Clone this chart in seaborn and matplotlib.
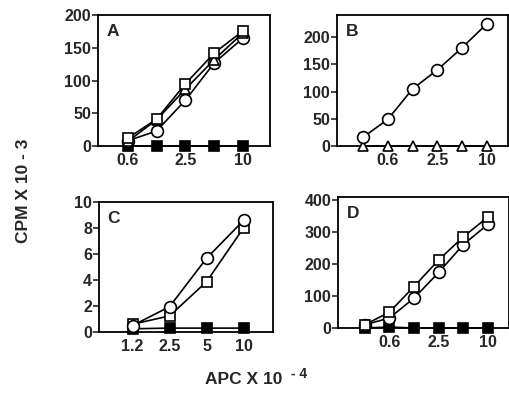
import matplotlib
matplotlib.use("Agg")
import matplotlib.pyplot as plt
import seaborn as sns

# APC doses (x 10^-4) and responses (CPM x 10^-3)
a_doses = ["0.6", "1.2", "2.5", "5", "10"]
a_square = [12, 41, 95, 142, 176]
a_triangle = [7, 40, 87, 132, 173]
a_circle = [8, 23, 70, 127, 165]
a_filled = [0, 0, 0, 0, 0]

b_doses = ["0.3", "0.6", "1.2", "2.5", "5", "10"]
b_circle = [16, 49, 105, 140, 181, 225]
b_triangle = [0, 0, 0, 0, 0, 0]

c_doses = ["1.2", "2.5", "5", "10"]
c_circle = [0.5, 1.95, 5.67, 8.58]
c_square = [0.6, 1.24, 3.87, 8.0]
c_filled = [0.25, 0.3, 0.3, 0.3]

d_doses = ["0.3", "0.6", "1.2", "2.5", "5", "10"]
d_square = [10, 49, 129, 212, 284, 346]
d_circle = [10, 31, 93, 173, 260, 323]
d_filled = [0, 3, 0, 0, 0, 0]

sns.set_style("ticks")
plt.rcParams["font.family"] = ["Liberation Sans", "DejaVu Sans"]
plt.rcParams["font.weight"] = "bold"

fig = plt.figure(figsize=(5.09, 3.97), dpi=100)

# marker styles: open symbols have white faces
STYLES = {
    "circle": dict(marker="o", markersize=8.5, markerfacecolor="white"),
    "square": dict(marker="s", markersize=7.5, markerfacecolor="white"),
    "triangle": dict(marker="^", markersize=6.5, markerfacecolor="white"),
    "filled": dict(marker="s", markersize=7, markerfacecolor="black"),
}


def draw_series(ax, values, kind):
    x = list(range(len(values)))
    sns.lineplot(x=x, y=values, ax=ax, color="black", linewidth=1.2,
                 markeredgecolor="black", markeredgewidth=1.2,
                 clip_on=False, zorder=3, **STYLES[kind])


def style_panel(ax, letter, doses, tick_idx, xlim, ylim, yticks):
    ax.set_xlim(*xlim)
    ax.set_ylim(*ylim)
    ax.set_xticks(tick_idx)
    ax.set_xticklabels([doses[i] for i in tick_idx], fontsize=11.5,
                       fontweight="bold")
    ax.set_yticks(yticks)
    ax.set_yticklabels([str(t) for t in yticks], fontsize=11.5,
                       fontweight="bold")
    ax.tick_params(axis="y", length=4, width=1.2, pad=1)
    ax.tick_params(axis="x", length=0, pad=5)
    for sp in ax.spines.values():
        sp.set_linewidth(1.3)
        sp.set_color("black")
    ax.text(0.05, 0.93, letter, transform=ax.transAxes, fontsize=12.5,
            va="top", ha="left", fontweight="bold")
    ax.set_xlabel("")
    ax.set_ylabel("")


# Panel A
ax_a = fig.add_axes([0.1925, 0.6322, 0.338, 0.330])
draw_series(ax_a, a_filled, "filled")
draw_series(ax_a, a_circle, "circle")
draw_series(ax_a, a_triangle, "triangle")
draw_series(ax_a, a_square, "square")
style_panel(ax_a, "A", a_doses, [0, 2, 4], (-1.03, 4.93), (0, 200),
            [0, 50, 100, 150, 200])

# Panel B
ax_b = fig.add_axes([0.662, 0.6322, 0.336, 0.330])
draw_series(ax_b, b_triangle, "triangle")
draw_series(ax_b, b_circle, "circle")
style_panel(ax_b, "B", b_doses, [1, 3, 5], (-1.05, 5.85), (0, 241),
            [0, 50, 100, 150, 200])

# Panel C
ax_c = fig.add_axes([0.1945, 0.1637, 0.342, 0.3275])
draw_series(ax_c, c_filled, "filled")
draw_series(ax_c, c_square, "square")
draw_series(ax_c, c_circle, "circle")
style_panel(ax_c, "C", c_doses, [0, 1, 2, 3], (-0.91, 3.8), (0, 10),
            [0, 2, 4, 6, 8, 10])

# Panel D
ax_d = fig.add_axes([0.664, 0.1738, 0.336, 0.330])
draw_series(ax_d, d_filled, "filled")
draw_series(ax_d, d_circle, "circle")
draw_series(ax_d, d_square, "square")
style_panel(ax_d, "D", d_doses, [1, 3, 5], (-1.08, 5.85), (0, 408),
            [0, 100, 200, 300, 400])

# shared axis labels
fig.text(0.047, 0.52, "CPM X 10 - 3", rotation=90, fontsize=12.5,
         ha="center", va="center", fontweight="bold")
fig.text(0.403, 0.043, "APC X 10", fontsize=12.5, ha="left", va="center",
         fontweight="bold")
fig.text(0.572, 0.057, "- 4", fontsize=10, ha="left", va="center",
         fontweight="bold")

fig.savefig("out.png", dpi=100)
